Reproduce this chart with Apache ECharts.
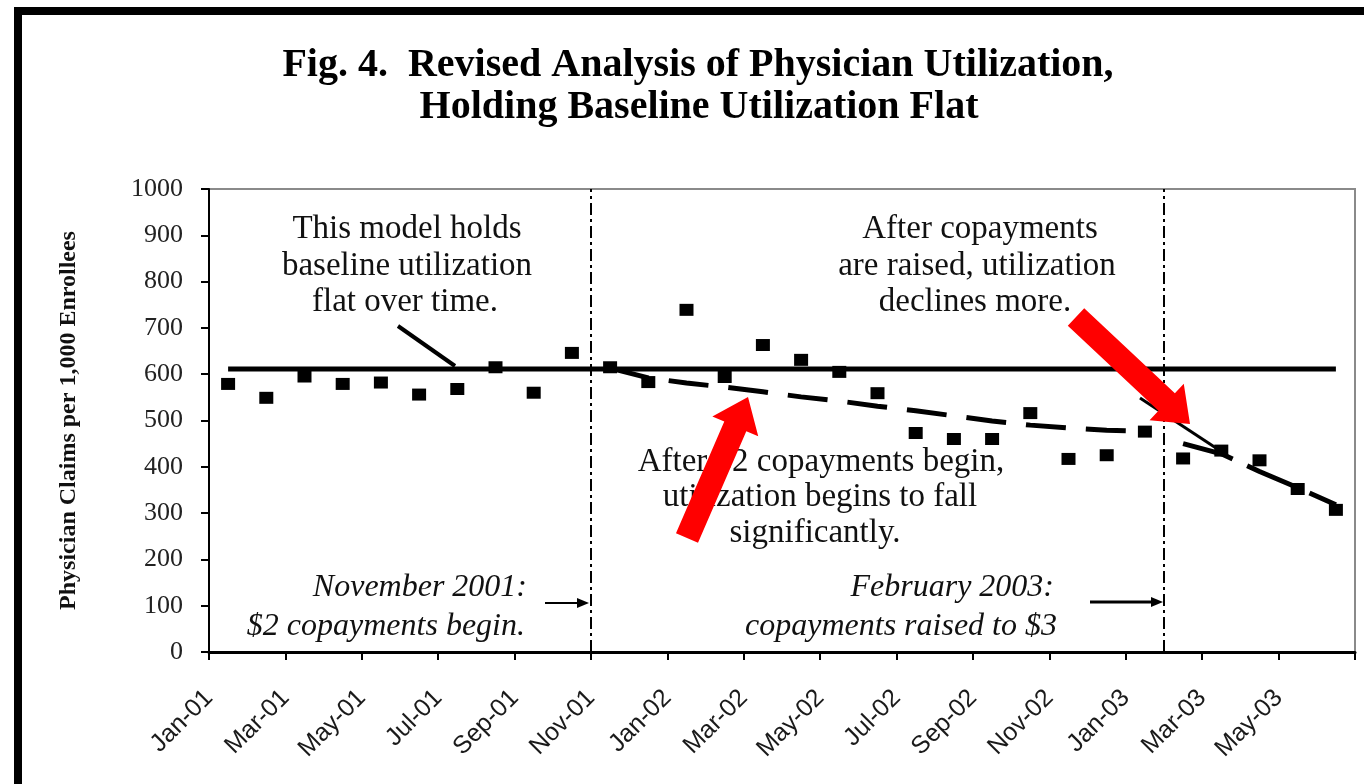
<!DOCTYPE html>
<html>
<head>
<meta charset="utf-8">
<script src="https://cdn.jsdelivr.net/npm/echarts@6/dist/echarts.min.js"></script>
<style>
  html, body { margin: 0; padding: 0; background: #fff; }
  #chart { width: 1364px; height: 784px; }
</style>
</head>
<body>
<div id="chart"></div>
<script>
// ---- Data ----
const months = ['Jan-01','Feb-01','Mar-01','Apr-01','May-01','Jun-01','Jul-01','Aug-01','Sep-01','Oct-01','Nov-01','Dec-01',
                'Jan-02','Feb-02','Mar-02','Apr-02','May-02','Jun-02','Jul-02','Aug-02','Sep-02','Oct-02','Nov-02','Dec-02',
                'Jan-03','Feb-03','Mar-03','Apr-03','May-03','Jun-03'];
const tickLabels = ['Jan-01','Mar-01','May-01','Jul-01','Sep-01','Nov-01','Jan-02','Mar-02','May-02','Jul-02','Sep-02','Nov-02','Jan-03','Mar-03','May-03',''];
const claims = [579, 549, 595, 579, 582, 556, 568, 615, 560, 646, 615, 583,
                739, 594, 663, 631, 605, 559, 473, 460, 460, 516, 417, 425,
                476, 418, 435, 414, 352, 307];
const baseline = [611, 611, 611, 611, 611, 611, 611, 611, 611, 611, 611, 611,
                  611, 611, 611, 611, 611, 611, 611, 611, 611, 611, 611, 611,
                  611, 611, 611, 611, 611, 611];
const trendAfter2 = [null, null, null, null, null, null, null, null, null, null, 613, 592,
                     581, 572, 562, 551, 542, 531, 521, 510, 499, 490, 484, 479,
                     477, null, null, null, null, null];
const trendAfter3 = [null, null, null, null, null, null, null, null, null, null, null, null,
                     null, null, null, null, null, null, null, null, null, null, null, null,
                     null, 450, 428, 390, 355, 318];
const eventBoundaries = [10, 25]; // Nov-01 and Feb-03 month starts (month index on the value axis)

const serif = '"Liberation Serif", "Times New Roman", serif';
const sans = '"Liberation Sans", Arial, sans-serif';

function arrowPoints(tail, tip, shaftHalf, headLen, headHalf) {
  const dx = tip[0] - tail[0], dy = tip[1] - tail[1];
  const L = Math.sqrt(dx * dx + dy * dy);
  const ux = dx / L, uy = dy / L, nx = -uy, ny = ux;
  const bx = tip[0] - ux * headLen, by = tip[1] - uy * headLen;
  return [
    [tail[0] + nx * shaftHalf, tail[1] + ny * shaftHalf],
    [bx + nx * shaftHalf, by + ny * shaftHalf],
    [bx + nx * headHalf, by + ny * headHalf],
    tip,
    [bx - nx * headHalf, by - ny * headHalf],
    [bx - nx * shaftHalf, by - ny * shaftHalf],
    [tail[0] - nx * shaftHalf, tail[1] - ny * shaftHalf]
  ];
}

function textEl(str, x, y, opts) {
  return {
    type: 'text', x: x, y: y, z: 10,
    style: Object.assign({
      text: str, fill: '#111', font: '33px ' + serif,
      textAlign: 'center', textVerticalAlign: 'middle'
    }, opts || {})
  };
}

const chart = echarts.init(document.getElementById('chart'), null, { renderer: 'canvas' });

const option = {
  backgroundColor: '#ffffff',
  animation: false,
  grid: { left: 209, right: 9, top: 189, bottom: 132, show: true, borderColor: '#8a8a8a', borderWidth: 2, backgroundColor: 'transparent' },
  xAxis: [
    { type: 'category', data: months, boundaryGap: true, show: false },
    {
      type: 'value', min: 0, max: 30, interval: 2, position: 'bottom',
      axisLine: { show: true, lineStyle: { color: '#000', width: 3 } },
      axisTick: { show: true, length: 8, lineStyle: { color: '#000', width: 2 } },
      splitLine: { show: false },
      axisLabel: {
        rotate: 45, margin: 42, color: '#1a1a1a', fontFamily: sans, fontSize: 25,
        formatter: function (v) { return tickLabels[Math.round(v / 2)] || ''; }
      }
    }
  ],
  yAxis: {
    type: 'value', min: 0, max: 1000, interval: 100,
    name: 'Physician Claims per 1,000 Enrollees', nameLocation: 'middle', nameRotate: 90, nameGap: 128,
    nameTextStyle: { fontFamily: serif, fontWeight: 'bold', fontSize: 24, color: '#111' },
    axisLine: { show: true, lineStyle: { color: '#000', width: 2 } },
    axisTick: { show: true, length: 8, lineStyle: { color: '#000', width: 2 } },
    splitLine: { show: false },
    axisLabel: { margin: 26, color: '#222', fontFamily: serif, fontSize: 26, formatter: function (v) { return String(v); } }
  },
  series: [
    {
      name: 'Baseline', type: 'line', xAxisIndex: 0, data: baseline, symbol: 'none',
      lineStyle: { color: '#000', width: 5 }, z: 3
    },
    {
      name: 'Trend after $2 copayments', type: 'line', xAxisIndex: 0, data: trendAfter2, symbol: 'none',
      lineStyle: { color: '#000', width: 5, type: [40, 20] }, z: 3
    },
    {
      name: 'Trend after $3 copayments', type: 'line', xAxisIndex: 0, data: trendAfter3, symbol: 'none',
      lineStyle: { color: '#000', width: 5, type: [52, 16] }, z: 3
    },
    {
      name: 'Claims', type: 'scatter', xAxisIndex: 0, data: claims, symbol: 'rect', symbolSize: [14, 12],
      itemStyle: { color: '#000', opacity: 1 }, z: 4
    },
    {
      name: 'Events', type: 'line', xAxisIndex: 1, data: [], symbol: 'none',
      markLine: {
        silent: true, symbol: 'none', label: { show: false },
        lineStyle: { color: '#000', width: 2, type: [12, 4, 3, 4] },
        data: eventBoundaries.map(function (b) { return { xAxis: b }; })
      }
    }
  ],
  graphic: [
    { type: 'rect', shape: { x: 18, y: 11, width: 1400, height: 820 }, style: { fill: 'none', stroke: '#000', lineWidth: 8 }, z: 0 },
    textEl('Fig. 4.  Revised Analysis of Physician Utilization,', 698, 66, { font: 'bold 40px ' + serif, fill: '#000' }),
    textEl('Holding Baseline Utilization Flat', 699, 108, { font: 'bold 40px ' + serif, fill: '#000' }),

    textEl('This model holds', 407, 229),
    textEl('baseline utilization', 407, 266),
    textEl('flat over time.', 405, 302),

    textEl('After copayments', 980, 229),
    textEl('are raised, utilization', 977, 266),
    textEl('declines more.', 975, 302),

    textEl('After $2 copayments begin,', 821, 462),
    textEl('utilization begins to fall', 820, 497),
    textEl('significantly.', 815, 533),

    textEl('November 2001:', 527, 588, { textAlign: 'right', font: 'italic 32px ' + serif }),
    textEl('$2 copayments begin.', 525, 627, { textAlign: 'right', font: 'italic 32px ' + serif }),
    textEl('February 2003:', 1054, 588, { textAlign: 'right', font: 'italic 32px ' + serif }),
    textEl('copayments raised to $3', 1057, 627, { textAlign: 'right', font: 'italic 32px ' + serif }),

    // pointer lines
    { type: 'line', shape: { x1: 398, y1: 326, x2: 455, y2: 366 }, style: { stroke: '#000', lineWidth: 4 }, z: 5 },
    { type: 'line', shape: { x1: 1140, y1: 398, x2: 1216, y2: 448 }, style: { stroke: '#000', lineWidth: 3 }, z: 5 },
    // small arrows to event lines
    { type: 'line', shape: { x1: 545, y1: 603, x2: 580, y2: 603 }, style: { stroke: '#000', lineWidth: 2 }, z: 5 },
    { type: 'polygon', shape: { points: [[589, 603], [577, 598], [577, 608]] }, style: { fill: '#000' }, z: 5 },
    { type: 'line', shape: { x1: 1090, y1: 602, x2: 1154, y2: 602 }, style: { stroke: '#000', lineWidth: 3 }, z: 5 },
    { type: 'polygon', shape: { points: [[1163, 602], [1151, 597], [1151, 607]] }, style: { fill: '#000' }, z: 5 },

    // red arrows
    { type: 'polygon', shape: { points: arrowPoints([687, 538], [748, 397], 12, 32, 25) }, style: { fill: '#ff0000' }, z: 100 },
    { type: 'polygon', shape: { points: arrowPoints([1076, 317], [1190, 424], 12, 32, 25) }, style: { fill: '#ff0000' }, z: 100 }
  ]
};

chart.setOption(option);
</script>
</body>
</html>
